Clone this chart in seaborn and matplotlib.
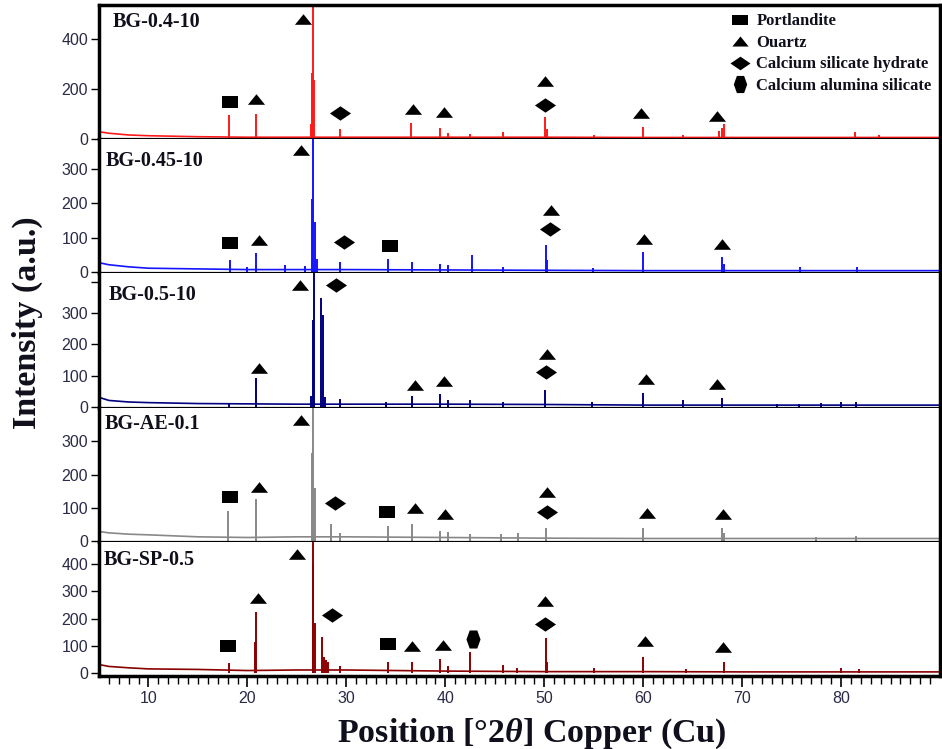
import numpy as np
import pandas as pd
import matplotlib
matplotlib.use("Agg")
import matplotlib.pyplot as plt
import seaborn as sns
from matplotlib.lines import Line2D

# ---------------- data ----------------
samples = ["BG-0.4-10", "BG-0.45-10", "BG-0.5-10", "BG-AE-0.1", "BG-SP-0.5"]
colors = ["#ff1a1a", "#1414ff", "#000080", "#888888", "#8b0000"]

bg_x = [5, 6, 8, 10, 15, 20, 25, 30, 40, 50, 60, 70, 80, 90]
bg_y = [
    [28, 22, 15, 12, 8, 6, 6, 6, 6, 6, 5, 5, 5, 5],
    [28, 22, 16, 12, 10, 8, 8, 8, 7, 6, 5, 5, 5, 5],
    [30, 20, 15, 13, 10, 9, 8, 8, 8, 7, 5, 5, 5, 5],
    [28, 24, 20, 18, 12, 10, 12, 12, 10, 8, 7, 7, 7, 7],
    [32, 25, 20, 16, 14, 10, 12, 12, 8, 6, 6, 5, 5, 5],
]

peak_x = [
    [18.1, 20.9, 26.45, 26.55, 26.65, 26.75, 29.4, 36.55, 39.5, 40.3, 42.5, 45.8,
     50.1, 50.25, 55.0, 59.95, 64.0, 67.7, 68.0, 68.2, 81.4, 83.8],
    [18.2, 20.0, 20.9, 23.8, 25.8, 26.5, 26.65, 26.8, 27.0, 29.4, 34.2, 36.6, 39.5,
     40.3, 42.7, 45.8, 50.15, 50.3, 54.9, 60.0, 68.0, 68.2, 75.8, 81.6],
    [18.1, 20.85, 26.4, 26.6, 26.7, 27.45, 27.6, 27.8, 29.4, 34.0, 36.6, 39.5, 40.3,
     42.5, 45.8, 50.1, 54.8, 60.0, 64.0, 68.0, 73.5, 75.7, 78.0, 80.0, 81.5],
    [18.05, 20.85, 26.55, 26.65, 26.8, 28.4, 29.4, 34.2, 36.6, 39.5, 40.3, 42.5,
     45.6, 47.3, 50.15, 60.0, 68.0, 68.2, 77.5, 81.5],
    [18.1, 20.8, 20.85, 26.6, 26.65, 26.8, 27.5, 27.7, 27.9, 28.1, 29.4, 34.2, 36.6,
     39.5, 40.3, 42.5, 45.8, 47.2, 50.15, 50.3, 55.0, 60.0, 64.3, 68.2, 80.0, 81.8],
]
peak_y = [
    [95, 100, 60, 265, 700, 235, 40, 64, 44, 22, 18, 28,
     88, 40, 14, 48, 15, 30, 45, 60, 25, 14],
    [35, 15, 55, 20, 18, 213, 700, 146, 40, 30, 40, 30, 25,
     20, 50, 15, 79, 35, 12, 58, 45, 25, 15, 15],
    [12, 93, 35, 278, 700, 348, 295, 30, 25, 15, 35, 40, 20,
     20, 14, 52, 15, 44, 22, 28, 10, 10, 12, 14, 15],
    [91, 125, 266, 700, 158, 52, 25, 45, 52, 30, 28, 20,
     20, 25, 40, 40, 40, 25, 12, 15],
    [38, 114, 224, 400, 700, 184, 132, 60, 50, 40, 25, 41, 40,
     52, 25, 78, 30, 20, 128, 40, 20, 60, 15, 42, 20, 15],
]

# phase annotations: (symbol, 2theta, intensity level)
marks = [
    [("P", 18.2, 148), ("Q", 20.9, 160), ("Q", 25.6, 480), ("C", 29.4, 104),
     ("Q", 36.7, 120), ("Q", 39.9, 108), ("Q", 50.1, 232), ("C", 50.1, 136),
     ("Q", 59.8, 104), ("Q", 67.5, 92)],
    [("P", 18.2, 85), ("Q", 21.2, 93), ("Q", 25.4, 353), ("C", 29.8, 87),
     ("P", 34.4, 76), ("Q", 50.7, 181), ("C", 50.6, 125), ("Q", 60.1, 96),
     ("Q", 68.0, 82)],
    [("Q", 21.2, 125), ("Q", 25.3, 390), ("C", 29.0, 390), ("Q", 36.9, 70),
     ("Q", 39.9, 83), ("Q", 50.3, 168), ("C", 50.2, 112), ("Q", 60.3, 89),
     ("Q", 67.5, 73)],
    [("P", 18.2, 131), ("Q", 21.2, 162), ("Q", 25.4, 366), ("C", 28.9, 113),
     ("P", 34.1, 88), ("Q", 36.9, 100), ("Q", 40.0, 82), ("Q", 50.3, 147),
     ("C", 50.3, 88), ("Q", 60.4, 84), ("Q", 68.1, 80)],
    [("P", 18.0, 99), ("Q", 21.1, 277), ("Q", 25.0, 437), ("C", 28.5, 212),
     ("P", 34.2, 107), ("Q", 36.6, 99), ("Q", 39.8, 103), ("A", 42.8, 125),
     ("Q", 50.1, 263), ("C", 50.1, 182), ("Q", 60.2, 118), ("Q", 68.1, 96)],
]

phase_names = {"P": "Portlandite", "Q": "Ouartz",
               "C": "Calcium silicate hydrate", "A": "Calcium alumina silicate"}

y_limits = [(-2, 538), (-3, 385), (-3, 428), (-3, 402), (-10, 481)]
y_ticks = [[0, 200, 400], [0, 100, 200, 300], [0, 100, 200, 300, 400],
           [0, 100, 200, 300], [0, 100, 200, 300, 400]]
y_ticklabels = [["0", "200", "400"], ["0", "100", "200", "300"],
                ["0", "100", "200", "300", ""], ["0", "100", "200", "300"],
                ["0", "100", "200", "300", "400"]]
x_ticks = [10, 20, 30, 40, 50, 60, 70, 80]

# ---------------- style ----------------
sns.set_theme(style="ticks")
plt.rcParams["font.family"] = ["Liberation Sans", "DejaVu Sans"]
plt.rcParams["mathtext.fontset"] = "custom"
plt.rcParams["mathtext.rm"] = "Liberation Serif:bold"
plt.rcParams["mathtext.it"] = "Liberation Serif:italic:bold"
plt.rcParams["mathtext.bf"] = "Liberation Serif:bold"

SQUARE = [(-1, -0.69), (1, -0.69), (1, 0.69), (-1, 0.69), (-1, -0.69)]
TRI = [(-1, -0.62), (1, -0.62), (0, 0.62), (-1, -0.62)]
DIAMOND = [(-1, 0), (0, 0.68), (1, 0), (0, -0.68), (-1, 0)]
HEXA = [(-0.42, 1), (0.42, 1), (0.78, 0), (0.42, -1), (-0.42, -1), (-0.78, 0), (-0.42, 1)]
shape = {"P": SQUARE, "Q": TRI, "C": DIAMOND, "A": HEXA}
msize = {"P": 11.5, "Q": 12.3, "C": 15.2, "A": 13.0}

tick_color = "#2a2a48"
text_color = "#10101c"

fig = plt.figure(figsize=(9.42, 7.49), dpi=100)
gs = fig.add_gridspec(5, 1, hspace=0, left=99 / 942, right=940 / 942,
                      top=1 - 5 / 749, bottom=1 - 676 / 749)
axes = [fig.add_subplot(gs[i]) for i in range(5)]

label_pos = [(0.016, 0.945), (0.008, 0.915), (0.011, 0.915), (0.007, 0.95), (0.005, 0.94)]

for i, ax in enumerate(axes):
    df = pd.DataFrame({"x": bg_x, "y": bg_y[i]})
    sns.lineplot(data=df, x="x", y="y", ax=ax, color=colors[i], lw=1.2)
    ax.vlines(peak_x[i], 0, peak_y[i], color=colors[i], lw=1.4)
    for sym, mx, my in marks[i]:
        ax.scatter([mx], [my], marker=shape[sym], s=msize[sym] ** 2,
                   color="black", linewidths=0, zorder=5, clip_on=False)
    ax.set_xlim(5, 90)
    ax.set_ylim(*y_limits[i])
    ax.set_yticks(y_ticks[i])
    ax.set_yticklabels(y_ticklabels[i])
    ax.set_xlabel("")
    ax.set_ylabel("")
    ax.tick_params(axis="y", direction="out", length=6, width=1.0,
                   labelsize=11.5, colors="black", labelcolor=tick_color, pad=2)
    ax.text(label_pos[i][0], label_pos[i][1], samples[i], transform=ax.transAxes,
            ha="left", va="top", fontsize=14.5, fontweight="bold",
            family="Liberation Serif", color=text_color)
    for side in ["left", "right"]:
        ax.spines[side].set_linewidth(2.5)
        ax.spines[side].set_color("black")
    ax.spines["top"].set_visible(i == 0)
    ax.spines["top"].set_linewidth(2.5)
    ax.spines["top"].set_color("black")
    ax.spines["bottom"].set_color("black")
    ax.spines["bottom"].set_linewidth(2.5 if i == 4 else 1.6)
    if i < 4:
        ax.tick_params(axis="x", which="both", bottom=False, labelbottom=False)

axb = axes[4]
axb.set_xticks(x_ticks)
axb.set_xticks(np.arange(6, 90, 1), minor=True)
axb.tick_params(axis="x", which="major", direction="out", length=8, width=1.2,
                labelsize=11.5, colors="black", labelcolor=tick_color, pad=3)
axb.tick_params(axis="x", which="minor", direction="out", length=5.5, width=1.0,
                colors="black")

handles = [Line2D([], [], marker=shape[k], color="black", linestyle="None",
                  markersize=msize[k] * 0.95, markeredgewidth=0)
           for k in ["P", "Q", "C", "A"]]
leg = axes[0].legend(handles, [phase_names[k] for k in ["P", "Q", "C", "A"]],
                     loc="upper right", bbox_to_anchor=(1.0, 1.0), frameon=False,
                     handlelength=1.0, handletextpad=0.5, labelspacing=0.33,
                     borderpad=0.3, borderaxespad=0.2,
                     prop={"family": "Liberation Serif", "weight": "bold", "size": 12})
for t in leg.get_texts():
    t.set_color(text_color)

fig.text(0.029, 0.569, "Intensity (a.u.)", rotation=90, ha="center", va="center",
         fontsize=24.5, fontweight="bold", family="Liberation Serif", color=text_color)
fig.text(0.565, 0.021, r"Position [°$\mathit{2\theta}$] Copper (Cu)", ha="center",
         va="center", fontsize=24.5, fontweight="bold", family="Liberation Serif",
         color=text_color)

fig.savefig("out.png", dpi=100)
